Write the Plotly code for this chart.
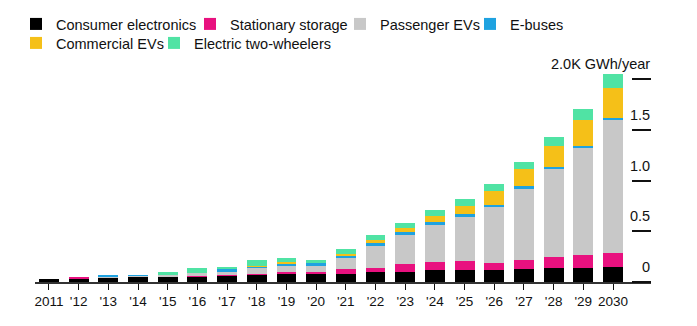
import plotly.graph_objects as go

years = ["2011", "'12", "'13", "'14", "'15", "'16", "'17", "'18", "'19", "'20",
         "'21", "'22", "'23", "'24", "'25", "'26", "'27", "'28", "'29", "2030"]

consumer_electronics = [30, 38, 45, 52, 56, 58, 66, 76, 84, 84,
                        80, 100, 100, 117, 123, 123, 124, 140, 134, 144]
stationary_storage = [0, 4, 0, 0, 0, 3, 3, 3, 10, 16,
                      45, 43, 73, 81, 81, 65, 91, 102, 130, 143]
passenger_evs = [0, 0, 5, 15, 10, 28, 26, 60, 72, 59,
                 114, 216, 294, 363, 434, 556, 703, 873, 1056, 1308]
e_buses = [0, 0, 12, 2, 0, 3, 29, 15, 10, 29,
           26, 25, 25, 29, 35, 20, 25, 23, 25, 23]
commercial_evs = [0, 0, 0, 0, 0, 0, 0, 3, 26, 0,
                  8, 26, 43, 65, 75, 130, 176, 206, 255, 297]
two_wheelers = [0, 0, 0, 0, 29, 42, 25, 56, 33, 33,
                56, 56, 49, 59, 72, 72, 69, 81, 108, 131]

series_names = ["Consumer electronics", "Stationary storage", "Passenger EVs",
                "E-buses", "Commercial EVs", "Electric two-wheelers"]
series_values = [consumer_electronics, stationary_storage, passenger_evs,
                 e_buses, commercial_evs, two_wheelers]

y_tickvals = [0, 500, 1000, 1500, 2000]
y_ticktext = ["0", "0.5", "1.0", "1.5", "2.0K GWh/year"]

colors = ["#000000", "#e8117f", "#c8c8c8", "#1fa2e0", "#f5c018", "#50e3a4"]
legend_ids = ["legend", "legend2", "legend3", "legend4", "legend5", "legend6"]
# legend text-start positions (px) and row centers (px)
legend_pos = [(56, 24), (230, 24), (380, 24), (510, 24), (56, 43), (194, 43)]

W, H = 697, 326
FONT = "Liberation Sans, Arial, Helvetica, sans-serif"

fig = go.Figure()
for name, vals, col, lid in zip(series_names, series_values, colors, legend_ids):
    fig.add_trace(go.Bar(x=years, y=vals, name=name, marker_color=col,
                         marker_line_width=0, legend=lid))

layout_legends = {}
for lid, (tx, ty) in zip(legend_ids, legend_pos):
    layout_legends[lid] = dict(
        x=(tx - 40) / W, y=1 - ty / H, xref="container", yref="container",
        xanchor="left", yanchor="middle", orientation="h",
        bgcolor="rgba(0,0,0,0)", borderwidth=0,
        font=dict(family=FONT, size=14.5, color="#111111"),
    )

fig.update_layout(
    width=W, height=H,
    barmode="stack", bargap=0.33,
    plot_bgcolor="white", paper_bgcolor="white",
    margin=dict(l=35, r=46, t=69, b=44, autoexpand=False),
    font=dict(family=FONT, color="#111111"),
    showlegend=True,
    **layout_legends,
)

fig.update_xaxes(
    type="category", range=[-0.47, 20.28],
    showline=True, linecolor="#333333", linewidth=1.5,
    ticks="outside", ticklen=6, tickcolor="#111111", tickwidth=1,
    showgrid=False, zeroline=False,
    tickfont=dict(family=FONT, size=13.5, color="#111111"),
    fixedrange=True,
)
fig.update_yaxes(
    side="left", anchor="free", position=1.0, range=[0, 2100],
    tickvals=y_tickvals, ticktext=y_ticktext,
    ticks="outside", ticklen=19, tickcolor="#111111", tickwidth=1.5,
    ticklabelstandoff=-21, ticklabelshift=-15,
    showgrid=False, zeroline=False, showline=False,
    tickfont=dict(family=FONT, size=14.5, color="#111111"),
    fixedrange=True,
)

fig.write_html("out.html")
